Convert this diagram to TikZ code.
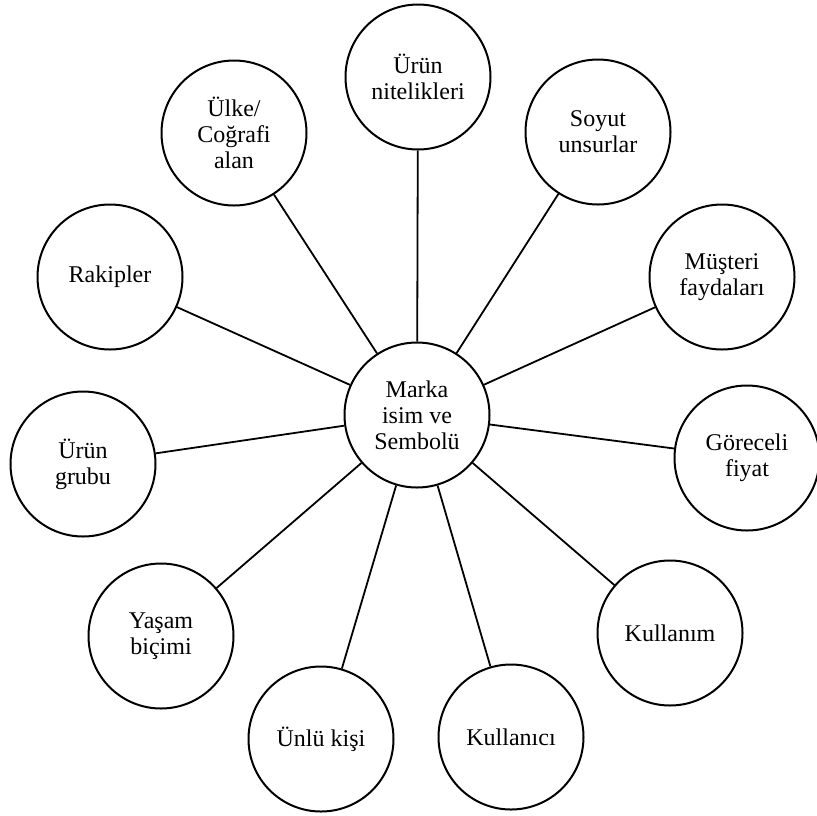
\documentclass[tikz,border=0pt]{standalone}
\usepackage{fontspec}
\setmainfont{Liberation Serif}
\begin{document}
\begin{tikzpicture}[x=1pt,y=-1pt,
  bub/.style={circle,draw,line width=2pt,minimum size=145pt,inner sep=0pt,align=center,
    font=\fontsize{24}{26}\selectfont},
  spoke/.style={line width=1.8pt}]
\useasboundingbox[fill=white] (0,0) rectangle (817,815);
\node[bub] (c) at (417,415) {Marka\\isim ve\\Sembolü};
\node[bub] (n1) at (418,77) {Ürün\\nitelikleri};
\node[bub] (n2) at (598,132) {Soyut\\unsurlar};
\node[bub] (n3) at (722,277) {Müşteri\\faydaları};
\node[bub] (n4) at (747,458) {Göreceli\\fiyat};
\node[bub] (n5) at (670,633) {Kullanım};
\node[bub] (n6) at (511,737) {Kullanıcı};
\node[bub] (n7) at (321,739) {Ünlü kişi};
\node[bub] (n8) at (161,636) {Yaşam\\biçimi};
\node[bub] (n9) at (83,464) {Ürün\\grubu};
\node[bub] (n10) at (110,277) {Rakipler};
\node[bub] (n11) at (234,133) {Ülke/\\Coğrafi\\alan};
\foreach \i in {1,...,11} \draw[spoke] (c) -- (n\i);
\end{tikzpicture}
\end{document}
